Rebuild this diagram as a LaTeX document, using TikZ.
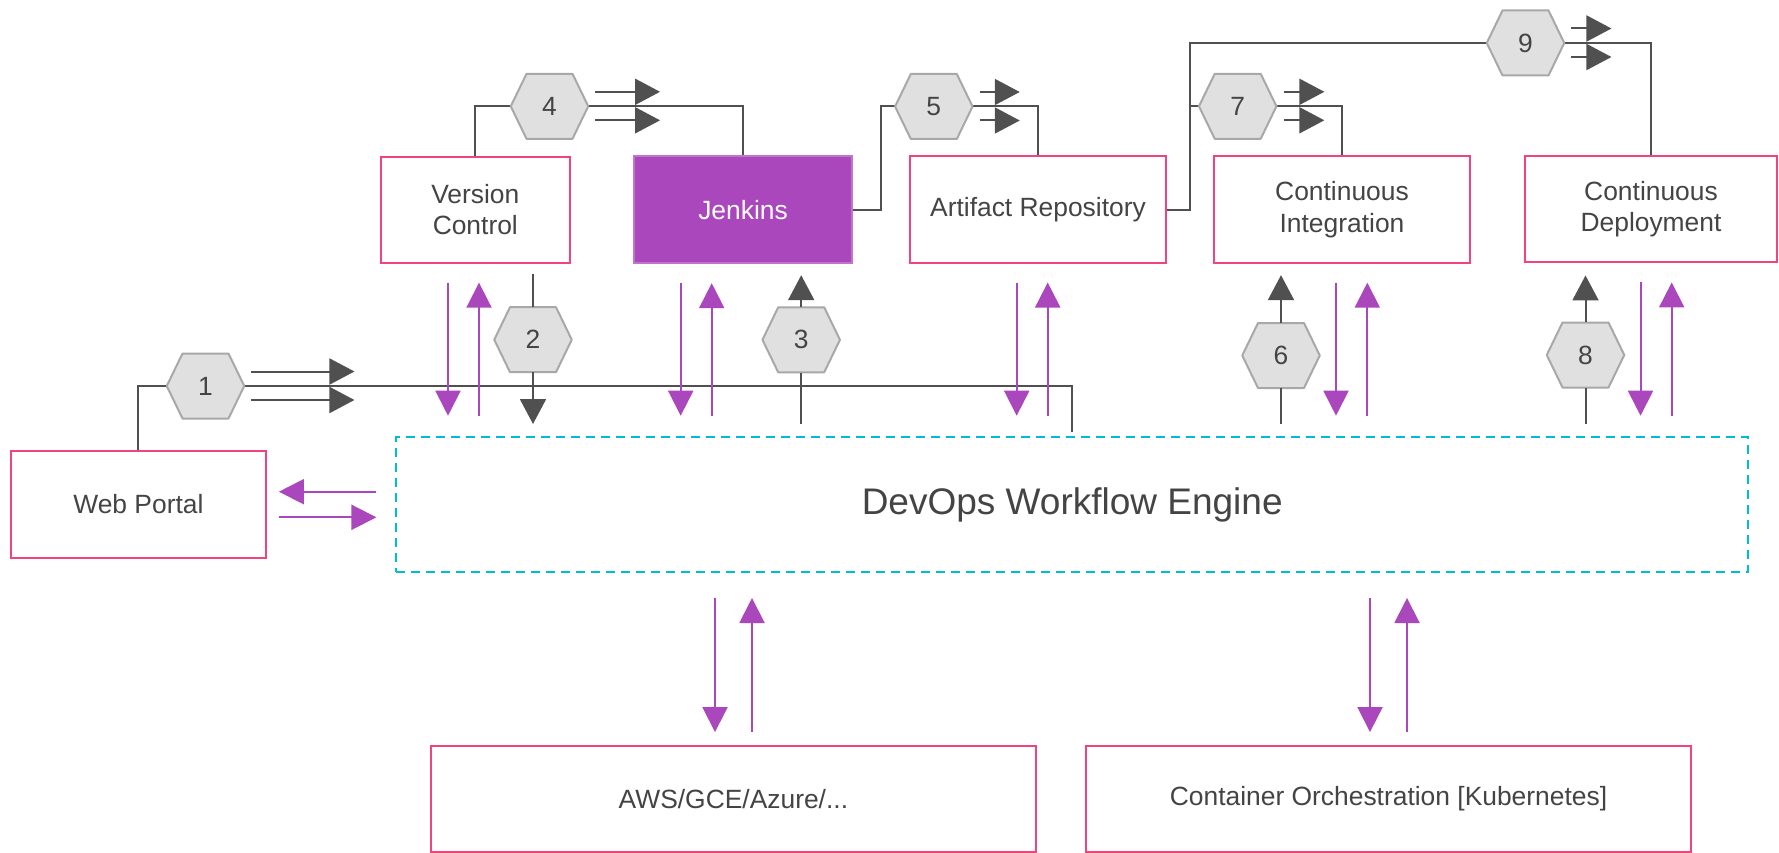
\documentclass[tikz,border=0pt]{standalone}
\usepackage{fontspec}
\setmainfont{Liberation Sans}
\usetikzlibrary{arrows.meta}
\definecolor{pinkc}{RGB}{240,68,122}
\definecolor{purp}{RGB}{171,71,188}
\definecolor{darkc}{RGB}{80,80,80}
\definecolor{hexf}{RGB}{224,224,224}
\definecolor{hexd}{RGB}{168,168,168}
\definecolor{cyanc}{RGB}{0,188,212}
\definecolor{txtc}{RGB}{68,68,68}
\newcommand\hexnode[4]{%
  \draw[hexshape,shift={(#2,#3)}] (-38.75,0) -- (-23,-32.5) -- (23,-32.5) -- (38.75,0) -- (23,32.5) -- (-23,32.5) -- cycle;
  \node[hexlabel] (#1) at (#2,#3) {#4};}
\tikzset{
  box/.style={draw=pinkc, line width=2pt, fill=white, text=txtc, align=center,
    font=\fontsize{26.4}{31.7}\selectfont, inner sep=0pt},
  hexshape/.style={draw=hexd, fill=hexf, line width=2pt, line join=round},
  hexlabel/.style={shape=rectangle, minimum width=77.5pt, minimum height=65pt, inner sep=0pt,
    text=txtc, font=\fontsize{26.4}{31.7}\selectfont},
  dl/.style={draw=darkc, line width=2pt},
  da/.style={draw=darkc, line width=2pt, -{Triangle[length=25pt,width=26pt]}},
  pa/.style={draw=purp, line width=2pt, -{Triangle[length=25pt,width=25pt]}},
}
\begin{document}
\begin{tikzpicture}[x=1pt,y=-1pt]
\useasboundingbox (0,0) rectangle (1779,853);
% main boxes
\node[box, minimum width=255pt, minimum height=107pt] (web) at (138.4,504.5) {Web Portal};
\node[box, minimum width=188.6pt, minimum height=106pt] (vc) at (475.3,209.7) {Version\\Control};
\node[box, fill=purp, draw=purp!75!white, text=white, minimum width=218pt, minimum height=107pt] (jen) at (743,209.7) {Jenkins};
\node[box, minimum width=256pt, minimum height=106pt] (art) at (1038,209.5) {Artifact Repository};
\node[box, minimum width=256pt, minimum height=106.5pt] (ci) at (1342,209.4) {Continuous\\Integration};
\node[box, minimum width=252pt, minimum height=106.5pt] (cd) at (1651,209.2) {Continuous\\Deployment};
\node[box, draw=cyanc, dash pattern=on 9pt off 6pt, minimum width=1351.6pt, minimum height=135.6pt,
  font=\fontsize{37}{44}\selectfont] (eng) at (1072.2,504.5) {DevOps Workflow Engine};
\node[box, minimum width=605pt, minimum height=105.5pt] (aws) at (733.4,798.8) {AWS/GCE/Azure/...};
\node[box, minimum width=605pt, minimum height=105.5pt] (k8s) at (1388.5,798.8) {Container Orchestration [Kubernetes]};

% helper coordinates
\coordinate (j1) at (1072,0);
\coordinate (j5) at (880.7,0);
\coordinate (j7) at (1189.5,0);

% connector lines (under hexagons)
\draw[dl] (web.north) |- (205.5,386);
\draw[dl,shorten >=4pt] (205.5,386) -| (j1 |- eng.north);
\draw[dl] (vc.north) |- (549.5,106.3) -| (jen.north);
\draw[dl] (jen.east) -- (jen.east -| j5) |- (933.8,106.5) -| (art.north);
\draw[dl] (art.east) -- (art.east -| j7) |- (1525.5,43) -| (cd.north);
\draw[dl] (j7 |- 1237.7,106.3) -- (1237.7,106.3) -| (ci.north);

% hexagons
\hexnode{h1}{205.5}{386}{1}
\hexnode{h2}{533}{339.7}{2}
\hexnode{h3}{801.2}{339.8}{3}
\hexnode{h4}{549.5}{106.3}{4}
\hexnode{h5}{933.8}{106.5}{5}
\hexnode{h6}{1281}{355.5}{6}
\hexnode{h7}{1237.7}{106.3}{7}
\hexnode{h8}{1585.5}{355}{8}
\hexnode{h9}{1525.5}{43}{9}

% vertical hex connectors
\draw[dl,shorten <=10pt] (h2 |- vc.south) -- (h2.north);
\draw[da,shorten >=11.7pt] (h2.south) -- (h2 |- eng.north);
\draw[dl,shorten <=12pt] (h3 |- eng.north) -- (h3.south);
\draw[da,shorten >=11pt] (h3.north) -- (h3 |- jen.south);
\draw[dl,shorten <=12pt] (h6 |- eng.north) -- (h6.south);
\draw[da,shorten >=11.5pt] (h6.north) -- (h6 |- ci.south);
\draw[dl,shorten <=12pt] (h8 |- eng.north) -- (h8.south);
\draw[da,shorten >=12pt] (h8.north) -- (h8 |- cd.south);

% flow indicator arrows
\foreach \h/\len in {h1/103, h4/64.6, h5/40, h7/40.7, h9/40}{
  \draw[da] ([xshift=7pt,yshift=14.5pt]\h.east) -- ++(\len,0);
  \draw[da] ([xshift=7pt,yshift=-14pt]\h.east) -- ++(\len,0);
}

% purple arrow pairs between top boxes and engine
\foreach \b/\dx/\ux in {vc/448/479, jen/680.7/711.7, art/1016.7/1047.7, ci/1336/1367.3, cd/1640.5/1671.7}{
  \coordinate (pd) at (\dx,0);
  \coordinate (pu) at (\ux,0);
  \draw[pa,shorten <=19pt,shorten >=20pt] (pd |- \b.south) -- (pd |- eng.north);
  \draw[pa,shorten <=20pt,shorten >=19pt] (pu |- eng.north) -- (pu |- \b.south);
}
% purple arrow pairs between engine and bottom boxes
\foreach \b/\dx/\ux in {aws/715/752, k8s/1370/1407}{
  \coordinate (pd) at (\dx,0);
  \coordinate (pu) at (\ux,0);
  \draw[pa,shorten <=24.7pt,shorten >=13pt] (pd |- eng.south) -- (pd |- \b.north);
  \draw[pa,shorten <=13pt,shorten >=24.7pt] (pu |- \b.north) -- (pu |- eng.south);
}
% web portal arrows
\coordinate (wa) at (0,491.7);
\coordinate (wb) at (0,517.3);
\draw[pa,shorten <=19pt,shorten >=12pt] (wa -| eng.west) -- (wa -| web.east);
\draw[pa,shorten <=12pt,shorten >=19pt] (wb -| web.east) -- (wb -| eng.west);
\end{tikzpicture}
\end{document}
